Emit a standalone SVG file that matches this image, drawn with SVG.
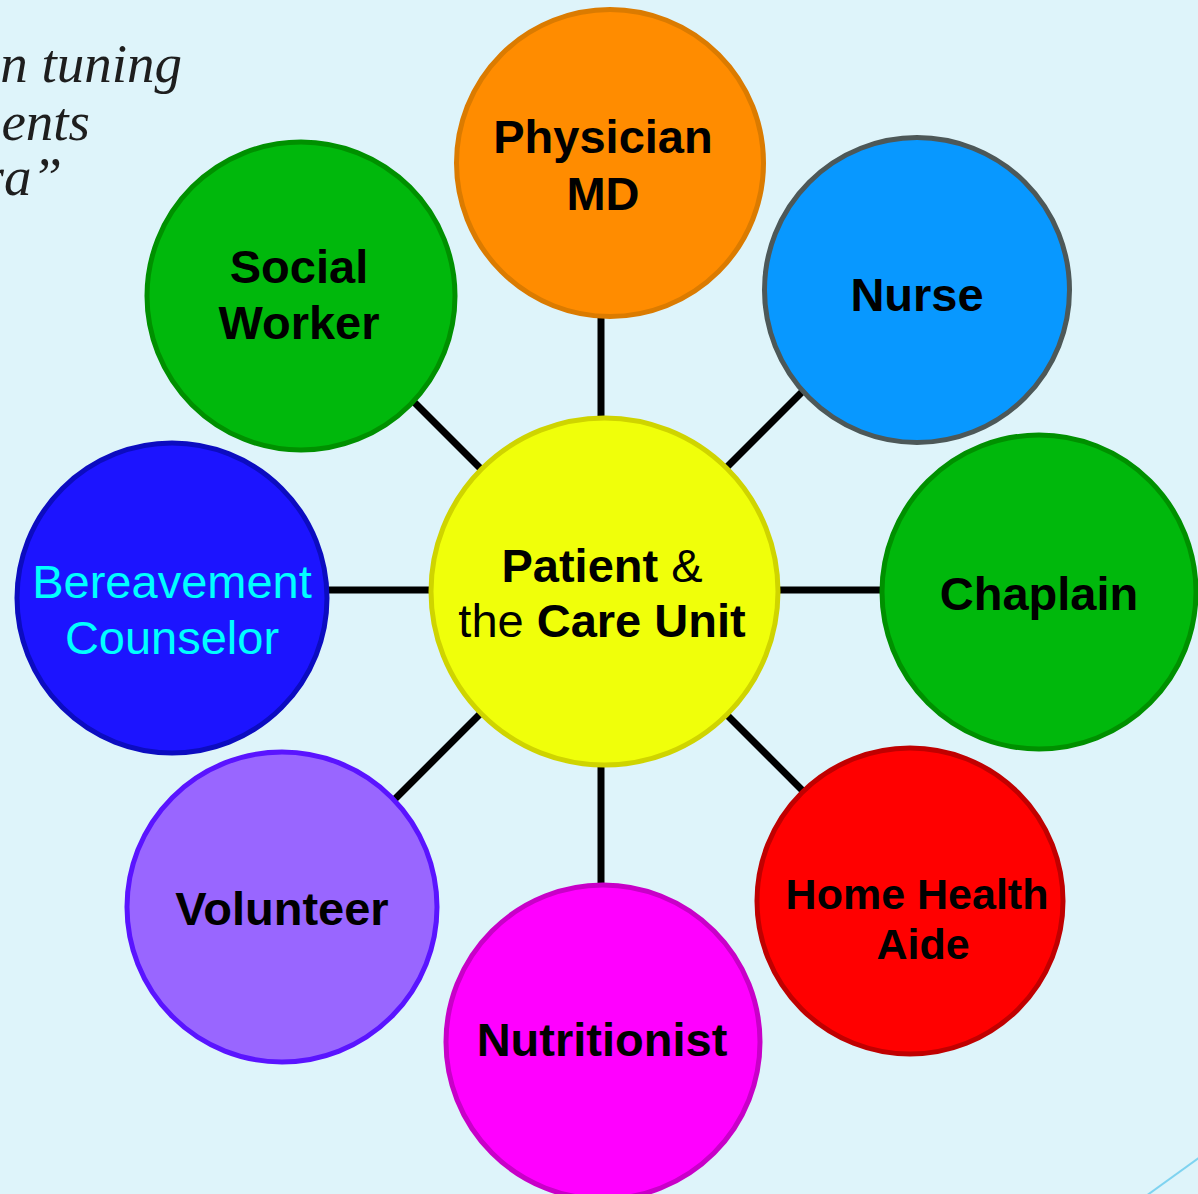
<svg xmlns="http://www.w3.org/2000/svg" width="1198" height="1194" viewBox="0 0 1198 1194">
  <style>
    .spoke { stroke: #000; stroke-width: 7; fill: none; }
    .node { stroke-width: 5; }
    .lbl { font-family: "Liberation Sans", Arial, sans-serif; font-size: 47px; font-weight: bold; fill: #000; text-anchor: middle; }
    .reg { font-weight: normal; }
    .cyan { fill: #00ffff; }
    .quote { font-family: "Liberation Serif", "DejaVu Serif", serif; font-style: italic; font-size: 55px; fill: #1e1e1e; text-anchor: end; }
  </style>

  <!-- background -->
  <rect width="1198" height="1194" fill="#def4fa"/>

  <!-- quotation fragment at top left -->
  <g id="quote">
    <text class="quote" x="182" y="82">n tuning</text>
    <text class="quote" x="90" y="140">ents</text>
    <text class="quote" x="62" y="195">ra”</text>
  </g>

  <!-- decorative corner line -->
  <line x1="1146" y1="1196" x2="1200" y2="1157" stroke="#7fd3f0" stroke-width="2"/>

  <!-- spokes from the centre to each role -->
  <g id="connectors">
    <line class="spoke" x1="601" y1="300" x2="601" y2="900"/>
    <line class="spoke" x1="320" y1="590" x2="890" y2="590"/>
    <line class="spoke" x1="395" y1="383" x2="811" y2="799"/>
    <line class="spoke" x1="811" y1="383" x2="395" y2="799"/>
  </g>

  <g id="physician">
    <circle class="node" cx="610" cy="163" r="153.5" fill="#ff8c00" stroke="#db7b00"/>
    <text class="lbl" x="603" y="153">Physician</text>
    <text class="lbl" x="603" y="210">MD</text>
  </g>

  <g id="nurse">
    <circle class="node" cx="917" cy="290" r="152.5" fill="#0898ff" stroke="#4d5858"/>
    <text class="lbl" x="917" y="311">Nurse</text>
  </g>

  <g id="chaplain">
    <circle class="node" cx="1039" cy="592" r="157" fill="#00b80c" stroke="#009000"/>
    <text class="lbl" x="1039" y="610">Chaplain</text>
  </g>

  <g id="home-health-aide">
    <circle class="node" cx="910" cy="901" r="153" fill="#ff0000" stroke="#c00000"/>
    <text class="lbl" x="917" y="909" style="font-size:43px">Home Health</text>
    <text class="lbl" x="923" y="959" style="font-size:43px">Aide</text>
  </g>

  <g id="nutritionist">
    <circle class="node" cx="603" cy="1042" r="157" fill="#ff00ff" stroke="#c800c8"/>
    <text class="lbl" x="602" y="1056">Nutritionist</text>
  </g>

  <g id="volunteer">
    <circle class="node" cx="282" cy="907" r="155" fill="#9966ff" stroke="#5a14ff"/>
    <text class="lbl" x="282" y="925">Volunteer</text>
  </g>

  <g id="bereavement-counselor">
    <circle class="node" cx="172" cy="598" r="155" fill="#1c14ff" stroke="#0c0cc0"/>
    <text class="lbl reg cyan" x="172" y="598">Bereavement</text>
    <text class="lbl reg cyan" x="172" y="654">Counselor</text>
  </g>

  <g id="social-worker">
    <circle class="node" cx="301" cy="296" r="154" fill="#00b80c" stroke="#009000"/>
    <text class="lbl" x="299" y="283">Social</text>
    <text class="lbl" x="299" y="339">Worker</text>
  </g>

  <g id="patient-care-unit">
    <circle class="node" cx="604.5" cy="591.5" r="173.5" fill="#f0ff0a" stroke="#cfd400"/>
    <text class="lbl" x="602" y="582">Patient<tspan class="reg"> &amp;</tspan></text>
    <text class="lbl" x="602" y="637"><tspan class="reg">the </tspan>Care Unit</text>
  </g>
</svg>
